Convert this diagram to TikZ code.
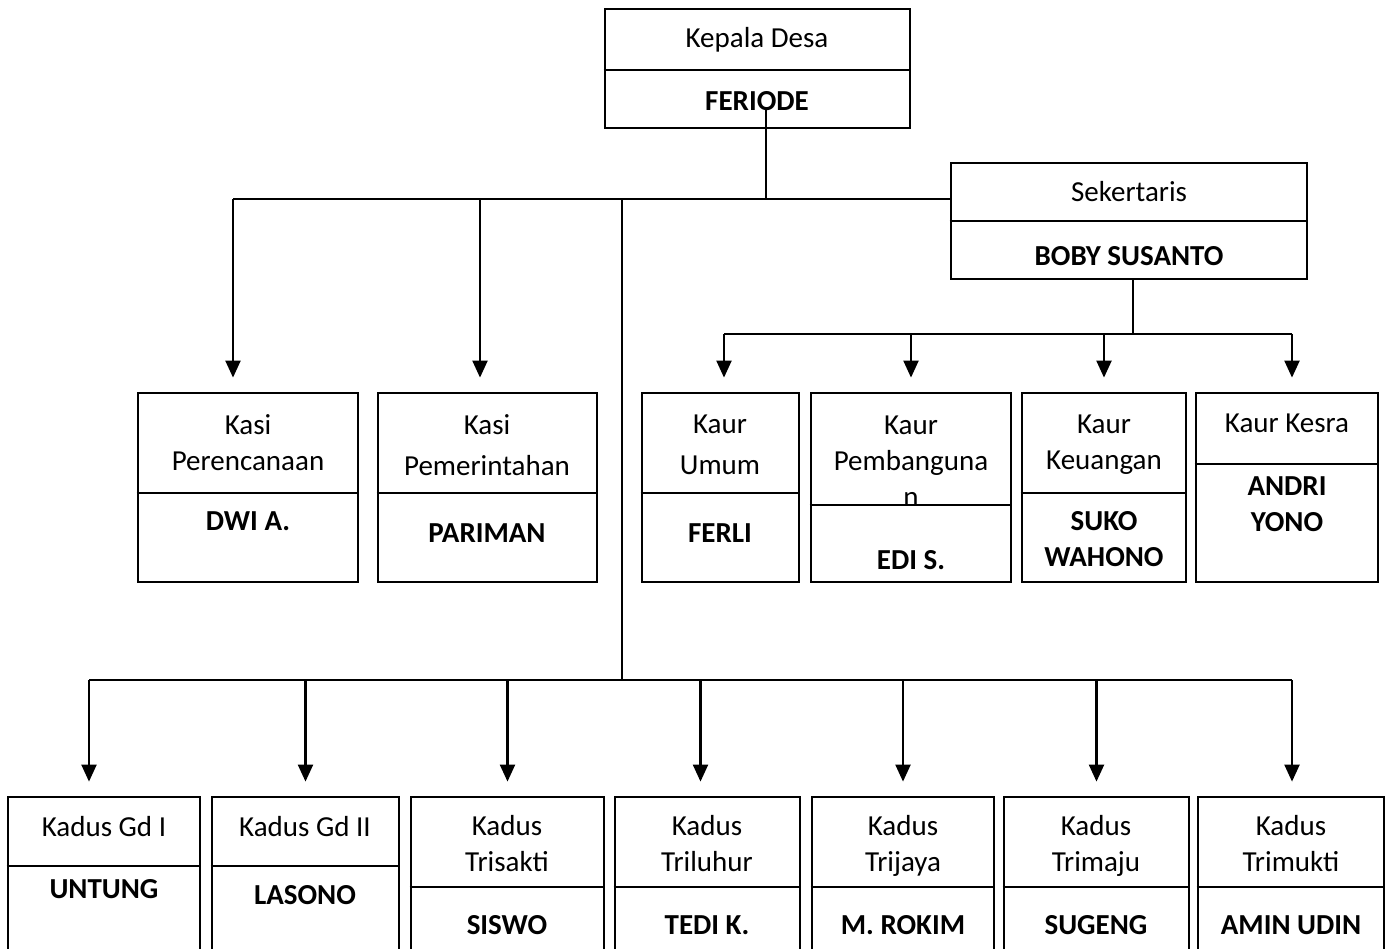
\documentclass[tikz,border=0pt]{standalone}
\usepackage{fontspec}
\setmainfont{Carlito}
\usepackage{tikz}
\usetikzlibrary{arrows.meta}
\usetikzlibrary{fit}
\usetikzlibrary{positioning}

\tikzset{
  kotak/.style={draw, line width=2.8pt, inner sep=0pt},
  sekat/.style={line width=2pt},
  jabatan/.style={font=\fontsize{29}{36}\selectfont, align=center, inner sep=0pt},
  nama/.style={font=\fontsize{29}{36}\selectfont\bfseries, align=center, inner sep=0pt},
  garis/.style={line width=2.2pt},
  panah/.style={line width=2.2pt, -{Triangle[width=15pt,length=17pt]}, shorten >=14pt}
}

\begin{document}
\begin{tikzpicture}[x=1pt, y=-1pt]
    \useasboundingbox (0,0) rectangle (1386,949);
    \clip (0,0) rectangle (1386,949);

    % kepala desa dan sekertaris
    \node (kades) [kotak, fit={(605,9) (910,128)}] {};
    \draw [sekat] (kades.west |- 0,70) -- (kades.east |- 0,70);
    \node (kades-j) [jabatan] at (757,40) {Kepala Desa};
    \node (kades-n) [nama] at (757,101) {FERIODE};

    \node (sek) [kotak, fit={(951,163) (1307,279)}] {};
    \draw [sekat] (sek.west |- 0,221) -- (sek.east |- 0,221);
    \node (sek-j) [jabatan] at (1129,192) {Sekertaris};
    \node (sek-n) [nama] at (1129,256) {BOBY SUSANTO};

    % kasi
    \node (kper) [kotak, fit={(138,393) (358,582)}] {};
    \draw [sekat] (kper.west |- 0,493) -- (kper.east |- 0,493);
    \node (kper-j) [jabatan] at (248,443) {Kasi\\Perencanaan};
    \node (kper-n) [nama] at (248,521) {DWI A.};

    \node (kpem) [kotak, fit={(378,393) (597,582)}] {};
    \draw [sekat] (kpem.west |- 0,493) -- (kpem.east |- 0,493);
    \node (kpem-j) [jabatan] at (487,445) {Kasi\\[5pt]Pemerintahan};
    \node (kpem-n) [nama] at (487,533) {PARIMAN};

    % kaur
    \node (kumum) [kotak, fit={(642,393) (799,582)}] {};
    \draw [sekat] (kumum.west |- 0,493) -- (kumum.east |- 0,493);
    \node (kumum-j) [jabatan] at (720,445) {Kaur\\[5pt]Umum};
    \node (kumum-n) [nama] at (720,533) {FERLI};

    \node (kpemb) [kotak, fit={(811,393) (1011,582)}] {};
    \draw [sekat] (kpemb.west |- 0,505) -- (kpemb.east |- 0,505);
    \node (kpemb-j) [jabatan] at (911,461) {Kaur\\Pembanguna\\n};
    \node (kpemb-n) [nama] at (911,560) {EDI S.};

    \node (kkeu) [kotak, fit={(1022,393) (1186,582)}] {};
    \draw [sekat] (kkeu.west |- 0,493) -- (kkeu.east |- 0,493);
    \node (kkeu-j) [jabatan] at (1104,445) {Kaur\\Keuangan};
    \node (kkeu-n) [nama] at (1104,539) {SUKO\\WAHONO};

    \node (kkes) [kotak, fit={(1196,393) (1378,582)}] {};
    \draw [sekat] (kkes.west |- 0,464) -- (kkes.east |- 0,464);
    \node (kkes-j) [jabatan] at (1287,423) {Kaur Kesra};
    \node (kkes-n) [nama] at (1287,504) {ANDRI\\YONO};

    % kadus
    \node (kd1) [kotak, fit={(8,797) (200,965)}] {};
    \draw [sekat] (kd1.west |- 0,866) -- (kd1.east |- 0,866);
    \node (kd1-j) [jabatan] at (104,827) {Kadus Gd I};
    \node (kd1-n) [nama] at (104,889) {UNTUNG};

    \node (kd2) [kotak, fit={(212,797) (399,965)}] {};
    \draw [sekat] (kd2.west |- 0,866) -- (kd2.east |- 0,866);
    \node (kd2-j) [jabatan] at (305,827) {Kadus Gd II};
    \node (kd2-n) [nama] at (305,895) {LASONO};

    \node (kd3) [kotak, fit={(411,797) (604,965)}] {};
    \draw [sekat] (kd3.west |- 0,887) -- (kd3.east |- 0,887);
    \node (kd3-j) [jabatan] at (507,844) {Kadus\\Trisakti};
    \node (kd3-n) [nama] at (507,925) {SISWO};

    \node (kd4) [kotak, fit={(615,797) (800,965)}] {};
    \draw [sekat] (kd4.west |- 0,887) -- (kd4.east |- 0,887);
    \node (kd4-j) [jabatan] at (707,844) {Kadus\\Triluhur};
    \node (kd4-n) [nama] at (707,925) {TEDI K.};

    \node (kd5) [kotak, fit={(812,797) (994,965)}] {};
    \draw [sekat] (kd5.west |- 0,887) -- (kd5.east |- 0,887);
    \node (kd5-j) [jabatan] at (903,846) {Kadus\\Trijaya};
    \node (kd5-n) [nama] at (903,925) {M. ROKIM};

    \node (kd6) [kotak, fit={(1004,797) (1189,965)}] {};
    \draw [sekat] (kd6.west |- 0,887) -- (kd6.east |- 0,887);
    \node (kd6-j) [jabatan] at (1096,846) {Kadus\\Trimaju};
    \node (kd6-n) [nama] at (1096,925) {SUGENG};

    \node (kd7) [kotak, fit={(1198,797) (1384,965)}] {};
    \draw [sekat] (kd7.west |- 0,887) -- (kd7.east |- 0,887);
    \node (kd7-j) [jabatan] at (1291,844) {Kadus\\Trimukti};
    \node (kd7-n) [nama] at (1291,925) {AMIN UDIN};

    % garis dari kepala desa
    \coordinate (k0) at (766,110);
    \coordinate (k1) at (766,199);
    \coordinate (a0) at (233,199);
    \coordinate (a1) at (480,199);
    \coordinate (a2) at (622,199);
    \draw [garis] (k0) -- (k1);
    \draw [garis] (a0) -- (sek.west |- a0);
    \draw [panah] (a0) -- (a0 |- kper.north);
    \draw [panah] (a1) -- (a1 |- kpem.north);

    % garis dari sekertaris
    \coordinate (s1) at (1133,334);
    \coordinate (s2) at (724,334);
    \coordinate (s3) at (1292,334);
    \draw [garis] (sek.south -| s1) -- (s1);
    \draw [garis] (s2) -- (s3);
    \draw [panah] (s2) -- (s2 |- kumum.north);
    \draw [panah] (kpemb.north |- s2) -- (kpemb.north);
    \draw [panah] (kkeu.north |- s2) -- (kkeu.north);
    \draw [panah] (s3) -- (s3 |- kkes.north);

    % garis ke kadus
    \coordinate (b0) at (622,680);
    \coordinate (b1) at (89,680);
    \coordinate (b2) at (1292,680);
    \draw [garis] (a2) -- (b0);
    \draw [garis] (b1) -- (b2);
    \draw [panah] (b1) -- (b1 |- kd1.north);
    \draw [panah] (kd2.north |- b1) -- (kd2.north);
    \draw [panah] (kd3.north |- b1) -- (kd3.north);
    \draw [panah] ([xshift=-7pt]kd4.north |- b1) -- ([xshift=-7pt]kd4.north);
    \draw [panah] (kd5.north |- b1) -- (kd5.north);
    \draw [panah] (kd6.north |- b1) -- (kd6.north);
    \draw [panah] (b2) -- (b2 |- kd7.north);
  \end{tikzpicture}
\end{document}
